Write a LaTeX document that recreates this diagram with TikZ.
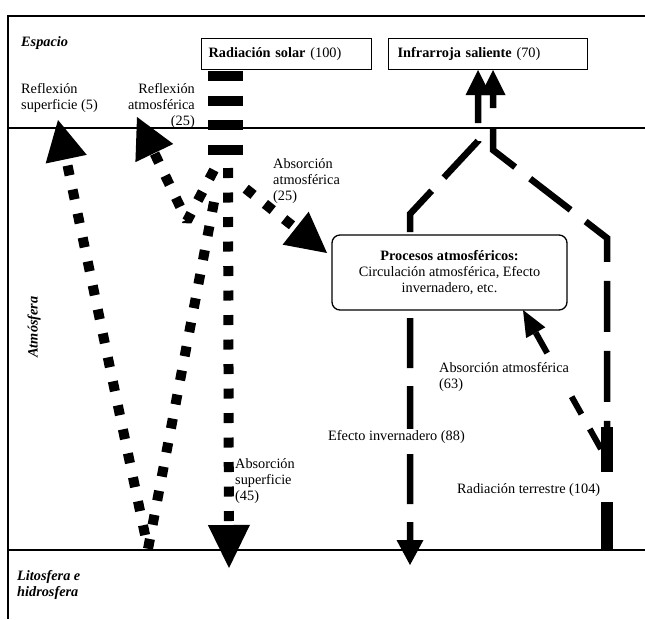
\documentclass[tikz,border=0pt]{standalone}
\usepackage{fontspec}
\setmainfont{Liberation Serif}
\usetikzlibrary{arrows.meta}
\begin{document}
\begin{tikzpicture}[x=1pt,y=-1pt,
  every node/.style={font=\fontsize{14.3}{16}\selectfont, inner sep=0pt},
  frameline/.style={line width=1.3pt},
  lbl/.style={align=left, anchor=base west},
  zone/.style={font=\fontsize{14.3}{16}\selectfont\bfseries\itshape, align=left},
  topbox/.style={draw, line width=1.3pt, minimum height=31pt, inner xsep=7pt, align=left, anchor=north west},
  dotflow/.style={line width=10pt, dash pattern=on 10pt off 14.5pt, line join=bevel},
  bigtip/.style={-{Triangle[length=40pt,width=42pt,line width=0pt]}},
  longflow/.style={line width=6.5pt, line join=miter},
]
\fill[white] (0,0) rectangle (645,619);
\useasboundingbox (0,0) rectangle (645,619);

% frame
\coordinate (fTL) at (8,16); \coordinate (fTR) at (645,16); \coordinate (fBL) at (8,619);
\coordinate (aL) at (8,128); \coordinate (aR) at (645,128);
\coordinate (gL) at (8,550); \coordinate (gR) at (645,550);
\draw[frameline] (fTR) -- (fTL) -- (fBL);
\draw[frameline] (aL) -- (aR);
\draw[frameline] (gL) -- (gR);

% solar flows
\coordinate (wsTop) at (225.5,71); \coordinate (wsBot) at (225.5,160);
\draw[line width=35pt, dash pattern=on 10pt off 14.5pt] (wsTop) -- (wsBot);
\coordinate (mvTop) at (228,168); \coordinate (mvTip) at (229,568);
\draw[dotflow, -{Triangle[length=43pt,width=42pt,line width=0pt]}] (mvTop) -- (mvTip);
\coordinate (dgTop) at (214,202); \coordinate (vBot) at (148,549); \coordinate (rsTip) at (58,120);
\draw[dotflow, bigtip] (dgTop) -- (vBot) -- (rsTip);
\coordinate (raTop) at (214,170); \coordinate (raBot) at (187,221); \coordinate (raTip) at (137,117);
\draw[dotflow, bigtip] (raTop) -- (raBot) -- (raTip);
\coordinate (aaTop) at (245.7,188.7); \coordinate (aaTip) at (327,253);
\draw[dotflow, bigtip] (aaTop) -- (aaTip);

% infrared flows
\coordinate (irL) at (478,70); \coordinate (lBend) at (478,141); \coordinate (lCorner) at (410,214); \coordinate (eiTip) at (410,565);
\draw[longflow, dash pattern=on 50pt off 18pt, dash phase=22pt,
  {Triangle[length=25pt,width=25pt,line width=0pt]}-{Triangle[length=25pt,width=27pt,line width=0pt]}]
  (irL) -- (lBend) -- (lCorner) -- (eiTip);
\coordinate (irR) at (493,70); \coordinate (rBend) at (493,150); \coordinate (rCorner) at (607,238); \coordinate (rJoin) at (607,440);
\draw[longflow, dash pattern=on 51pt off 19pt, dash phase=38pt,
  {Triangle[length=25pt,width=25pt,line width=0pt]}-]
  (irR) -- (rBend) -- (rCorner) -- (rJoin);
\coordinate (rGround) at (607,550); \coordinate (rThickTop) at (607,427);
\draw[line width=12pt, dash pattern=on 48pt off 30pt on 45pt off 30pt] (rGround) -- (rThickTop);
\coordinate (b63) at (601,449); \coordinate (b63Tip) at (523,310);
\draw[line width=6pt, dash pattern=on 23pt off 17pt on 20pt off 50pt on 30pt off 10pt,
  -{Triangle[length=26pt,width=22pt,line width=0pt]}] (b63) -- (b63Tip);

% boxes
\node[topbox, text width=156pt, fill=white] (rad) at (201,38) {\textbf{Radiación solar} (100)};
\node[topbox, text width=181pt, inner xsep=9pt, fill=white] (ir) at (388,38) {\textbf{Infrarroja saliente} (70)};
\node[draw, line width=1.3pt, rounded corners=8pt, fill=white, minimum width=235pt, minimum height=75pt, align=center]
  (proc) at (449.5,272.5) {\textbf{Procesos atmosféricos:}\\Circulación atmosférica, Efecto\\invernadero, etc.};

% labels (base anchor = baseline of the last line)
\node[zone, anchor=base west] (esp) at (21,46) {Espacio};
\node[zone, anchor=base west] (lit) at (17,596) {Litosfera e\\hidrosfera};
\node[zone, rotate=90] (atm) at (34,327) {Atmósfera};
\node[lbl] (refsup) at (21,109) {Reflexión\\superficie (5)};
\node[align=right, anchor=base east] (refatm) at (195,125) {Reflexión\\atmosférica\\(25)};
\node[lbl] (absatm) at (273,200) {Absorción\\atmosférica\\(25)};
\node[lbl] (abssup) at (235,500) {Absorción\\superficie\\(45)};
\node[lbl, fill=white, inner sep=1pt] (abs63) at (438,388) {Absorción atmosférica\\(63)};
\node[lbl, fill=white, inner sep=1pt] (efinv) at (327,440) {Efecto invernadero (88)};
\node[lbl] (radter) at (457,493) {Radiación terrestre (104)};
\end{tikzpicture}
\end{document}
